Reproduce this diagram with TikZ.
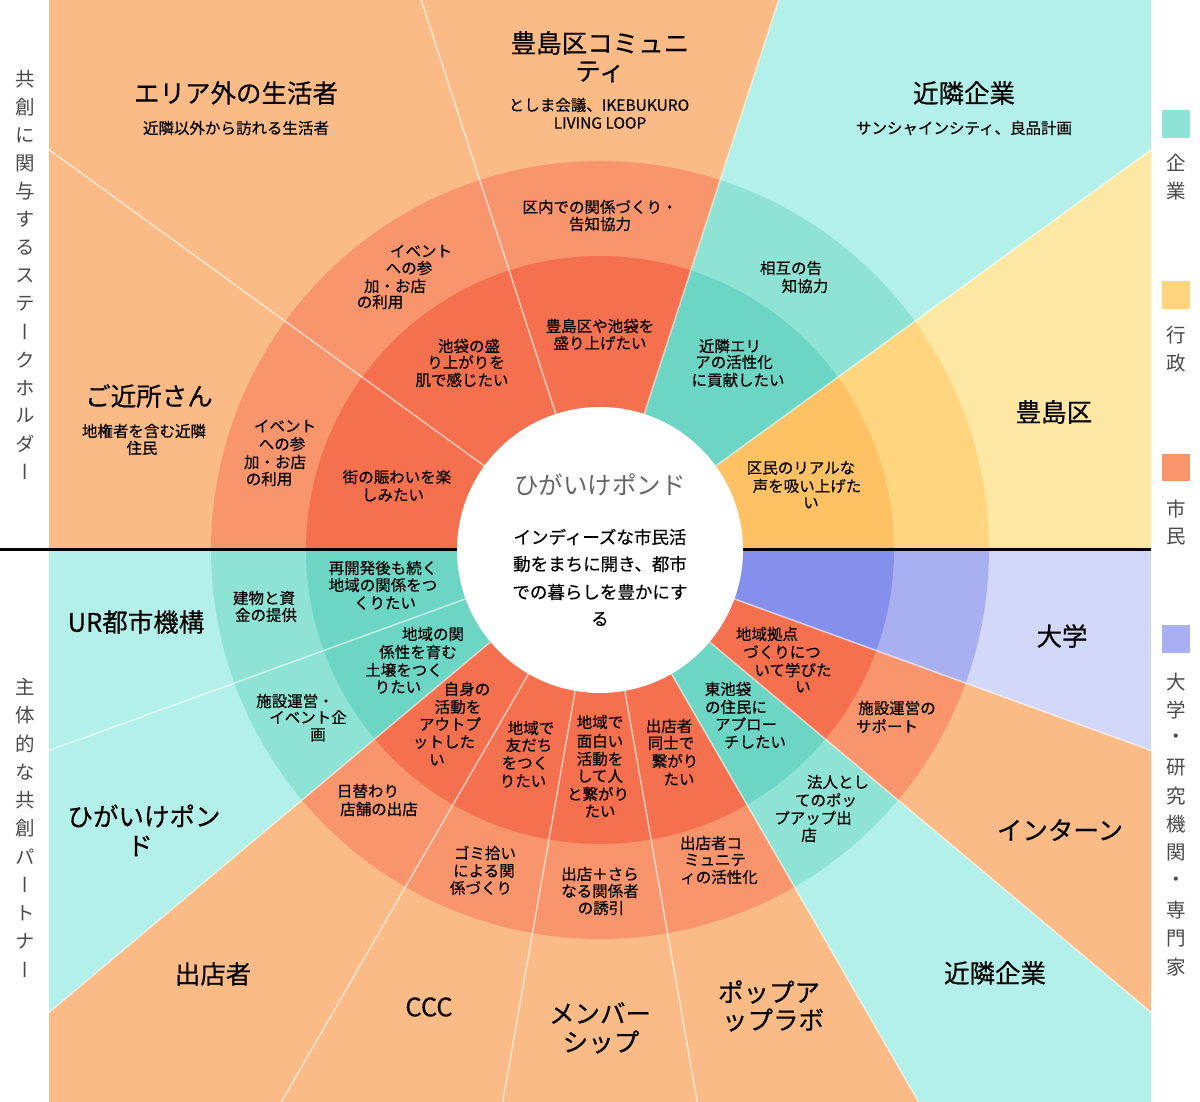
\documentclass[tikz,border=0pt]{standalone}
\usepackage{fontspec}
\setmainfont{Noto Sans CJK JP}[FakeBold=0.4]
\newfontfamily\plainfont{Noto Sans CJK JP}
\newfontfamily\vfont[RawFeature={+vert}]{Noto Sans CJK JP}
\definecolor{O3}{HTML}{FBBB86}
\definecolor{O2}{HTML}{F9956C}
\definecolor{O1}{HTML}{F4704F}
\definecolor{T3}{HTML}{B2F0E9}
\definecolor{T2}{HTML}{8FE3D5}
\definecolor{T1}{HTML}{6DD5C3}
\definecolor{Y3}{HTML}{FFE8A3}
\definecolor{Y2}{HTML}{FFD580}
\definecolor{Y1}{HTML}{FEC163}
\definecolor{B3}{HTML}{D3D7F8}
\definecolor{B2}{HTML}{A9B0F1}
\definecolor{B1}{HTML}{8490EB}
\definecolor{legtext}{HTML}{4A4A4A}
\definecolor{ctitle}{HTML}{666666}
\newcommand\rtext[4]{\node[rt] (#1) at (#2,#3) {#4};}
\newcommand\ttext[4]{\node[tt] (#1) at (#2,#3) {#4};}
\newcommand\stext[4]{\node[st] (#1) at (#2,#3) {#4};}
\begin{document}
\begin{tikzpicture}[x=1pt,y=1pt,
  rt/.style={inner sep=0pt, font=\fontsize{15.5}{17}\selectfont, text=black},
  tt/.style={inner sep=0pt, font=\fontsize{25.5}{30}\selectfont, text=black},
  st/.style={inner sep=0pt, font=\fontsize{15.5}{18}\selectfont, text=black},
  vt/.style={inner sep=0pt, font=\vfont\fontsize{19.5}{20}\selectfont, text=legtext},
  ct/.style={inner sep=0pt, font=\fontsize{17.5}{20}\selectfont, text=black},
  sep/.style={white, opacity=0.55, line width=1.6pt}]
\useasboundingbox (0,0) rectangle (1200,1102);
\fill[white] (0,0) rectangle (1200,1102);
\begin{scope}
\clip (49,0) rectangle (1151,1102);
\begin{scope}[shift={(600,552)}]
\foreach \a/\b/\c in {0/36/Y,36/72/T,72/108/O,108/144/O,144/180/O,180/200/T,200/220/T,220/240/O,240/260/O,260/280/O,280/300/O,300/320/T,320/340/O,340/360/B}{
  \fill[\c3] (0,0) -- (\a:1000) arc[start angle=\a, end angle=\b, radius=1000] -- cycle;
  \fill[\c2] (0,0) -- (\a:389) arc[start angle=\a, end angle=\b, radius=389] -- cycle;
  \fill[\c1] (0,0) -- (\a:294) arc[start angle=\a, end angle=\b, radius=294] -- cycle;
}
\foreach \a in {36,72,108,144,200,220,240,260,280,300,320,340}{
  \draw[sep] (\a:143) -- (\a:1000);
}
\end{scope}
\end{scope}
\draw[line width=3pt] (0,552) -- (1151,552);
\fill[white] (600,552) circle[radius=143];
\begin{scope}[yshift=1102pt, yscale=-1]
% legend
\fill[T2] (1162,110) rectangle (1190,138);
\fill[Y2] (1162,281) rectangle (1190,309);
\fill[O2] (1162,454) rectangle (1190,481);
\fill[B2] (1162,625) rectangle (1190,653);
\node[vt] (g1) at (1176,163) {企};
\node[vt] (g2) at (1176,191) {業};
\node[vt] (g3) at (1176,335) {行};
\node[vt] (g4) at (1176,363) {政};
\node[vt] (g5) at (1176,509) {市};
\node[vt] (g6) at (1176,537) {民};
\foreach \c [count=\i] in {大,学,・,研,究,機,関,・,専,門,家}
  \node[vt] (gb\i) at (1176,{682+28.5*(\i-1)}) {\c};
% left vertical labels
\foreach \c [count=\i] in {共,創,に,関,与,す,る,ス,テ,ー,ク,ホ,ル,ダ,ー}
  \node[vt] (la\i) at (25,{79+28.07*(\i-1)}) {\c};
\foreach \c [count=\i] in {主,体,的,な,共,創,パ,ー,ト,ナ,ー}
  \node[vt] (lb\i) at (25,{687+28.3*(\i-1)}) {\c};
% center
\node[inner sep=0pt, font=\plainfont\fontsize{24.5}{28}\selectfont, text=ctitle] (ctr) at (600,485) {ひがいけポンド};
\node[ct] (c1) at (600,537) {インディーズな市民活};
\node[ct] (c2) at (600,564) {動をまちに開き、都市};
\node[ct] (c3) at (600,592) {での暮らしを豊かにす};
\node[ct] (c4) at (600,619) {る};
% outer titles
\ttext{o1}{236}{93}{エリア外の生活者}
\stext{o1s}{236}{128}{近隣以外から訪れる生活者}
\ttext{o2a}{600}{43}{豊島区コミュニ}
\ttext{o2b}{600}{72}{ティ}
\stext{o2s}{599}{105}{としま会議、IKEBUKURO}
\stext{o2t}{600}{123}{LIVING LOOP}
\ttext{o3}{964}{93}{近隣企業}
\stext{o3s}{964}{128}{サンシャインシティ、良品計画}
\ttext{o4}{149}{396}{ご近所さん}
\stext{o4s}{144}{431}{地権者を含む近隣}
\stext{o4t}{142}{448}{住民}
\ttext{o5}{1054}{412}{豊島区}
\ttext{o6}{136}{622}{UR都市機構}
\ttext{o7a}{144}{816}{ひがいけポン}
\ttext{o7b}{140}{846}{ド}
\ttext{o8}{213}{974}{出店者}
\ttext{o9}{429}{1007}{CCC}
\ttext{o10a}{600}{1013}{メンバー}
\ttext{o10b}{601}{1042}{シップ}
\ttext{o11a}{769}{992}{ポップア}
\ttext{o11b}{773}{1020}{ップラボ}
\ttext{o12}{995}{973}{近隣企業}
\ttext{o13}{1060}{830}{インターン}
\ttext{o14}{1062}{636}{大学}
% upper ring texts
\rtext{a1}{600}{207}{区内での関係づくり・}
\rtext{a2}{600}{224}{告知協力}
\rtext{b1}{421}{251}{イベント}
\rtext{b2}{409}{268}{への参}
\rtext{b3}{395}{286}{加・お店}
\rtext{b4}{380}{302}{の利用}
\rtext{c5}{469}{346}{池袋の盛}
\rtext{c6}{466}{362}{り上がりを}
\rtext{c7}{462}{380}{肌で感じたい}
\rtext{d1}{600}{326}{豊島区や池袋を}
\rtext{d2}{600}{343}{盛り上げたい}
\rtext{e1}{791}{268}{相互の告}
\rtext{e2}{805}{286}{知協力}
\rtext{f1}{730}{346}{近隣エリ}
\rtext{f2}{734}{362}{アの活性化}
\rtext{f3}{738}{380}{に貢献したい}
\rtext{h1}{801}{468}{区民のリアルな}
\rtext{h2}{807}{486}{声を吸い上げた}
\rtext{h3}{811}{503}{い}
\rtext{i1}{285}{426}{イベント}
\rtext{i2}{282}{444}{への参}
\rtext{i3}{275}{462}{加・お店}
\rtext{i4}{269}{479}{の利用}
\rtext{j1}{397}{477}{街の賑わいを楽}
\rtext{j2}{393}{495}{しみたい}
% lower ring texts
\rtext{k1}{383}{568}{再開発後も続く}
\rtext{k2}{383}{585}{地域の関係をつ}
\rtext{k3}{385}{603}{くりたい}
\rtext{l1}{264}{598}{建物と資}
\rtext{l2}{266}{615}{金の提供}
\rtext{m1}{433}{634}{地域の関}
\rtext{m2}{418}{652}{係性を育む}
\rtext{m3}{404}{670}{土壌をつく}
\rtext{m4}{398}{687}{りたい}
\rtext{n1}{295}{701}{施設運営・}
\rtext{n2}{308}{717}{イベント企}
\rtext{n3}{318}{735}{画}
\rtext{p1}{467}{689}{自身の}
\rtext{p2}{458}{707}{活動を}
\rtext{p3}{450}{724}{アウトプ}
\rtext{p4}{444}{742}{ットした}
\rtext{p5}{437}{760}{い}
\rtext{q1}{531}{728}{地域で}
\rtext{q2}{529}{745}{友だち}
\rtext{q3}{525}{763}{をつく}
\rtext{q4}{523}{781}{りたい}
\rtext{s1}{368}{791}{日替わり}
\rtext{s2}{379}{809}{店舗の出店}
\rtext{u1}{485}{853}{ゴミ拾い}
\rtext{u2}{484}{871}{による関}
\rtext{u3}{481}{888}{係づくり}
\rtext{v1}{600}{722}{地域で}
\rtext{v2}{600}{741}{面白い}
\rtext{v3}{600}{759}{活動を}
\rtext{v4}{600}{776}{して人}
\rtext{v5}{598}{794}{と繋がり}
\rtext{v6}{600}{811}{たい}
\rtext{w1}{600}{874}{出店＋さら}
\rtext{w2}{600}{891}{なる関係者}
\rtext{w3}{601}{908}{の誘引}
\rtext{x1}{669}{726}{出店者}
\rtext{x2}{671}{743}{同士で}
\rtext{x3}{675}{761}{繋がり}
\rtext{x4}{679}{779}{たい}
\rtext{y1}{728}{689}{東池袋}
\rtext{y2}{736}{707}{の住民に}
\rtext{y3}{746}{724}{アプロー}
\rtext{y4}{755}{742}{チしたい}
\rtext{z1}{767}{634}{地域拠点}
\rtext{z2}{782}{652}{づくりにつ}
\rtext{z3}{793}{670}{いて学びた}
\rtext{z4}{803}{687}{い}
\rtext{aa1}{897}{708}{施設運営の}
\rtext{aa2}{887}{726}{サポート}
\rtext{bb1}{838}{782}{法人とし}
\rtext{bb2}{826}{800}{てのポッ}
\rtext{bb3}{813}{818}{プアップ出}
\rtext{bb4}{809}{835}{店}
\rtext{cc1}{711}{843}{出店者コ}
\rtext{cc2}{715}{860}{ミュニテ}
\rtext{cc3}{719}{877}{ィの活性化}
\end{scope}
\end{tikzpicture}
\end{document}
